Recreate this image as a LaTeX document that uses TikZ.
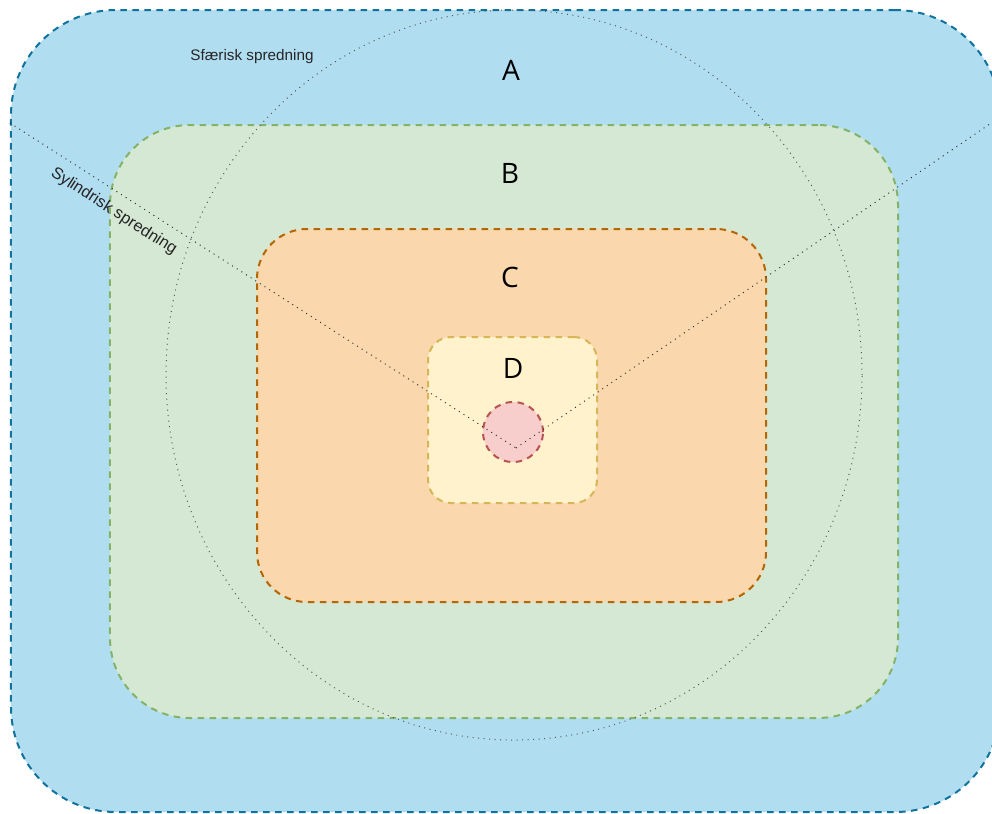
\documentclass[tikz,border=0pt]{standalone}
\usepackage{fontspec}
\setmainfont{Liberation Sans}
\newfontfamily\bokstavfont{Open Sans}
\usepackage{tikz}
\usetikzlibrary{shapes.geometric}

\definecolor{blaaFyll}{HTML}{B1DDF0}
\definecolor{blaaKant}{HTML}{10739E}
\definecolor{gronnFyll}{HTML}{D5E8D4}
\definecolor{gronnKant}{HTML}{82B366}
\definecolor{oransjeFyll}{HTML}{FAD7AC}
\definecolor{oransjeKant}{HTML}{B46504}
\definecolor{gulFyll}{HTML}{FFF2CC}
\definecolor{gulKant}{HTML}{D6B656}
\definecolor{rosaFyll}{HTML}{F8CECC}
\definecolor{rosaKant}{HTML}{B85450}

\begin{document}
\begin{tikzpicture}[x=0.2mm, y=-0.2mm,
    sone/.style={rectangle, draw, line width=0.4mm, dash pattern=on 1.3mm off 1.1mm, inner sep=0pt},
    prikket/.style={line width=0.2mm, dash pattern=on 0.2mm off 0.9mm},
    bokstav/.style={font=\bokstavfont\fontsize{16}{19}\selectfont}]
    \useasboundingbox (0,0) rectangle (992,813);
    \clip (0,0) rectangle (992,813);

    % Zones
    \node (soneA) [sone, draw=blaaKant, fill=blaaFyll, rounded corners=21mm, minimum width=197.8mm, minimum height=160.4mm] at (505.5,411) {};
    \node (soneB) [sone, draw=gronnKant, fill=gronnFyll, rounded corners=16mm, minimum width=157.6mm, minimum height=118.6mm] at (504,421.5) {};
    \node (soneC) [sone, draw=oransjeKant, fill=oransjeFyll, rounded corners=10mm, minimum width=101.8mm, minimum height=74.6mm] at (511.5,415.5) {};
    \node (soneD) [sone, draw=gulKant, fill=gulFyll, rounded corners=4.6mm, minimum width=33.8mm, minimum height=33.2mm] at (512.5,420) {};
    \node (kilde) [circle, draw=rosaKant, fill=rosaFyll, line width=0.4mm, dash pattern=on 1.3mm off 1.1mm, inner sep=0pt, minimum size=12mm] at (513,432) {};

    % Spreading
    \node (sfaere) [ellipse, draw=black!65, prikket, inner sep=0pt, minimum width=139.2mm, minimum height=146mm] at (514,375) {};
    \coordinate (vinkel) at (516,448);
    \coordinate (venstre) at (10,123);
    \coordinate (hoyre) at (1000,117);
    \draw[prikket, black!80] (venstre) -- node[pos=0.225, below=0.9mm, sloped, font=\fontsize{9.3}{11}\selectfont, text=black!85] {Sylindrisk spredning} (vinkel);
    \draw[prikket, black!80] (vinkel) -- (hoyre);

    % Labels
    \node (tekstSfaere) [font=\fontsize{8.7}{10}\selectfont, text=black!85] at (252,57) {Sfærisk spredning};
    \node (tekstA) [bokstav] at (511,70) {A};
    \node (tekstB) [bokstav] at (510,173) {B};
    \node (tekstC) [bokstav] at (510,277) {C};
    \node (tekstD) [bokstav] at (513,368) {D};
\end{tikzpicture}
\end{document}
